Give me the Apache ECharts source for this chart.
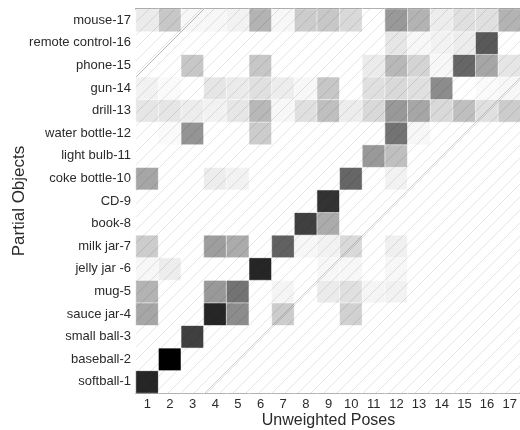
<!DOCTYPE html>
<html>
<head>
<meta charset="utf-8">
<script src="https://cdn.jsdelivr.net/npm/echarts@6/dist/echarts.min.js"></script>
<style>html,body{margin:0;padding:0;background:#fff}#c{width:520px;height:430px}</style>
</head>
<body>
<div id="c"></div>
<script>
const xLabels = ['1','2','3','4','5','6','7','8','9','10','11','12','13','14','15','16','17'];
const yLabels = ['softball-1','baseball-2','small ball-3','sauce jar-4','mug-5','jelly jar -6','milk jar-7','book-8','CD-9','coke bottle-10','light bulb-11','water bottle-12','drill-13','gun-14','phone-15','remote control-16','mouse-17'];
// rows: objects 1..17, columns: poses 1..17 (darkness 0..1)
const values = [
  [0.85,0,0,0,0,0,0,0,0,0,0,0,0,0,0,0,0],
  [0,1.0,0,0,0,0,0,0,0,0,0,0,0,0,0,0,0],
  [0,0,0.75,0,0,0,0,0,0,0,0,0,0,0,0,0,0],
  [0.35,0,0,0.85,0.45,0,0.2,0,0,0.18,0,0,0,0,0,0,0],
  [0.3,0,0,0.4,0.55,0,0.04,0,0.08,0.12,0.04,0.05,0,0,0,0,0],
  [0.03,0.07,0,0,0,0.85,0,0,0.03,0.03,0,0.03,0,0,0,0,0],
  [0.2,0,0,0.38,0.33,0,0.62,0.03,0.05,0.15,0,0.06,0,0,0,0,0],
  [0,0,0,0,0,0,0,0.75,0.33,0,0,0,0,0,0,0,0],
  [0,0,0,0,0,0,0,0,0.8,0,0,0,0,0,0,0,0],
  [0.35,0,0,0.07,0.05,0,0,0,0,0.6,0,0.05,0,0,0,0,0],
  [0,0,0,0,0,0,0,0,0,0,0.4,0.25,0,0,0,0,0],
  [0,0.02,0.42,0,0,0.2,0,0,0,0,0,0.55,0.03,0,0,0,0],
  [0.1,0.1,0.07,0.05,0.1,0.28,0.03,0.12,0.25,0.07,0.15,0.4,0.35,0.15,0.25,0.12,0.2],
  [0.05,0.02,0,0.1,0.08,0.12,0.07,0.03,0.22,0,0.12,0.15,0.12,0.45,0,0.02,0.03],
  [0,0,0.22,0,0,0.22,0,0,0,0,0.08,0.28,0.17,0.03,0.6,0.35,0.1],
  [0,0,0,0,0,0,0,0,0,0,0,0.1,0.03,0.05,0.07,0.65,0],
  [0.08,0.22,0.03,0.03,0.05,0.3,0.03,0.2,0.22,0.15,0,0.4,0.3,0.07,0.12,0.12,0.3]
];

const data = [];
values.forEach((row, r) => row.forEach((v, c) => data.push([c, r, v])));

// hatch pattern (decoration)
const S = 13;
const pc = document.createElement('canvas');
pc.width = S; pc.height = S;
const ctx = pc.getContext('2d');
ctx.strokeStyle = 'rgba(0,0,0,0.1)';
ctx.lineWidth = 1;
ctx.beginPath();
ctx.moveTo(-1, S + 1); ctx.lineTo(S + 1, -1);
ctx.moveTo(-1, 1); ctx.lineTo(1, -1);
ctx.moveTo(S - 1, S + 1); ctx.lineTo(S + 1, S - 1);
ctx.stroke();

const G = {left: 136, top: 9, width: 385, height: 384};
const font = 'Liberation Sans, Arial, Helvetica, sans-serif';

const chart = echarts.init(document.getElementById('c'), null, {renderer: 'canvas'});
chart.setOption({
  animation: false,
  backgroundColor: '#fff',
  grid: {left: G.left, top: G.top, width: G.width, height: G.height, containLabel: false, outerBoundsMode: 'none'},
  xAxis: [{
    type: 'category', data: xLabels, position: 'bottom',
    name: 'Unweighted Poses', nameLocation: 'middle', nameGap: 20, nameMoveOverlap: false,
    nameTextStyle: {fontSize: 16, color: '#2a2a2a', fontFamily: font, verticalAlign: 'top'},
    axisLine: {lineStyle: {color: '#555', width: 1}},
    axisTick: {show: false},
    axisLabel: {fontSize: 13, color: '#2a2a2a', fontFamily: font, margin: 5},
    splitLine: {show: false}
  }, {
    type: 'category', data: xLabels, position: 'top',
    axisLine: {lineStyle: {color: '#111', width: 1.5}},
    axisTick: {show: false}, axisLabel: {show: false}
  }],
  yAxis: {
    type: 'category', data: yLabels,
    name: 'Partial Objects', nameLocation: 'middle', nameGap: 108, nameRotate: 90, nameMoveOverlap: false,
    nameTextStyle: {fontSize: 17, color: '#2a2a2a', fontFamily: font},
    axisLine: {lineStyle: {color: '#888', width: 1}},
    axisTick: {show: false},
    axisLabel: {fontSize: 13, color: '#2a2a2a', fontFamily: font, margin: 5},
    splitLine: {show: false}
  },
  visualMap: {show: false, min: 0, max: 1, dimension: 2, inRange: {color: ['#ffffff', '#000000']}},
  series: [{
    type: 'heatmap', data: data,
    itemStyle: {borderColor: 'rgba(255,255,255,0.55)', borderWidth: 1},
    emphasis: {disabled: true}
  }],
  graphic: [
    {type: 'rect', silent: true, z: 100, x: G.left, y: G.top,
     shape: {width: G.width, height: G.height},
     style: {fill: {image: pc, repeat: 'repeat'}}},
    {type: 'line', silent: true, z: 101,
     shape: {x1: G.left, y1: G.top + 68, x2: G.left + 68, y2: G.top},
     style: {stroke: 'rgba(0,0,0,0.28)', lineWidth: 1}},
    {type: 'line', silent: true, z: 101,
     shape: {x1: G.left + 69, y1: G.top + G.height, x2: G.left + G.width, y2: G.top + 68},
     style: {stroke: 'rgba(0,0,0,0.2)', lineWidth: 1}}
  ]
});
</script>
</body>
</html>
